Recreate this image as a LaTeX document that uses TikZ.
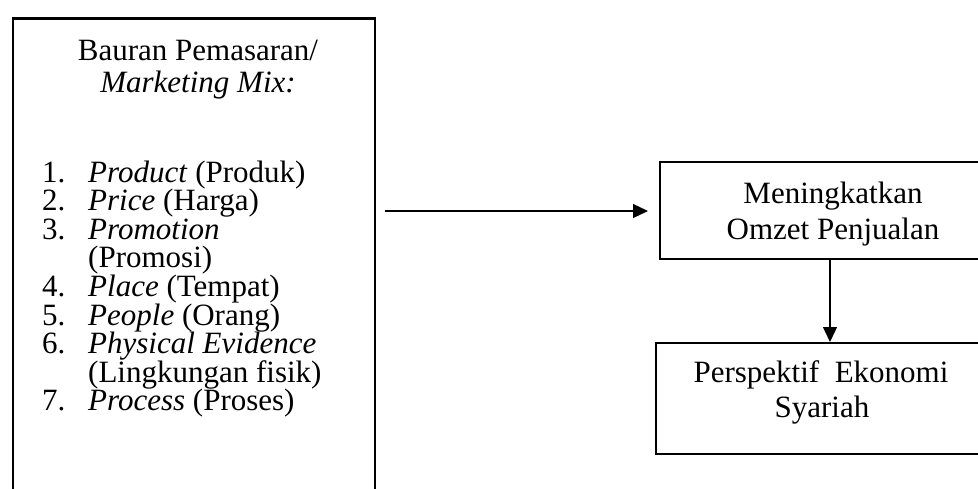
\documentclass[tikz,border=0pt]{standalone}
\usepackage{fontspec}
\setmainfont{Liberation Serif}
\usetikzlibrary{arrows.meta}
\begin{document}
\begin{tikzpicture}[x=1pt,y=-1pt,
  boxframe/.style={draw=black,line width=2.2pt,inner sep=0pt,anchor=north west},
  txt/.style={inner sep=0pt,font=\fontsize{31}{28.5}\selectfont},
  ctxt/.style={txt,anchor=base},
  ltxt/.style={txt,anchor=base west},
  arr/.style={line width=1.3pt,-{Triangle[length=15pt,width=14pt]}}]
\useasboundingbox (0,0) rectangle (978,488);
\begin{scope}
\clip (0,0) rectangle (978,488);
\node[boxframe,minimum width=362pt,minimum height=520pt] (mix) at (11.7,17.3) {};
\node[boxframe,minimum width=360pt,minimum height=97pt] (omzet) at (659,161) {};
\node[boxframe,minimum width=360pt,minimum height=111pt] (syariah) at (655,342) {};
\end{scope}
% left box text
\node[ctxt] (t1) at (198,60) {Bauran Pemasaran/};
\node[ctxt] (t2) at (198,92) {\textit{Marketing Mix:}};
\node[ltxt] (n1) at (42,182) {1.};
\node[ltxt] (i1) at (88,182) {\textit{Product} (Produk)};
\node[ltxt] (n2) at (42,210.6) {2.};
\node[ltxt] (i2) at (88,210.6) {\textit{Price} (Harga)};
\node[ltxt] (n3) at (42,239.2) {3.};
\node[ltxt] (i3) at (88,239.2) {\textit{Promotion}};
\node[ltxt] (i3b) at (88,267.8) {(Promosi)};
\node[ltxt] (n4) at (42,296.4) {4.};
\node[ltxt] (i4) at (88,296.4) {\textit{Place} (Tempat)};
\node[ltxt] (n5) at (42,325) {5.};
\node[ltxt] (i5) at (88,325) {\textit{People} (Orang)};
\node[ltxt] (n6) at (42,353.6) {6.};
\node[ltxt] (i6) at (88,353.6) {\textit{Physical Evidence}};
\node[ltxt] (i6b) at (88,382.2) {(Lingkungan fisik)};
\node[ltxt] (n7) at (42,410.8) {7.};
\node[ltxt] (i7) at (88,410.8) {\textit{Process} (Proses)};
% right boxes text
\node[ctxt] (m1) at (833,203) {Meningkatkan};
\node[ctxt] (m2) at (833,239) {Omzet Penjualan};
\node[ctxt] (s1) at (821,382) {Perspektif\ \ Ekonomi};
\node[ctxt] (s2) at (822,417) {Syariah};
% connectors
\coordinate (start) at (385,211);
\coordinate (vtop) at (830,258);
\coordinate (vend) at (830,342);
\draw[arr,shorten >=11pt] (start) -- (start -| omzet.west);
\draw[arr] (vtop) -- (vend);
\end{tikzpicture}
\end{document}
